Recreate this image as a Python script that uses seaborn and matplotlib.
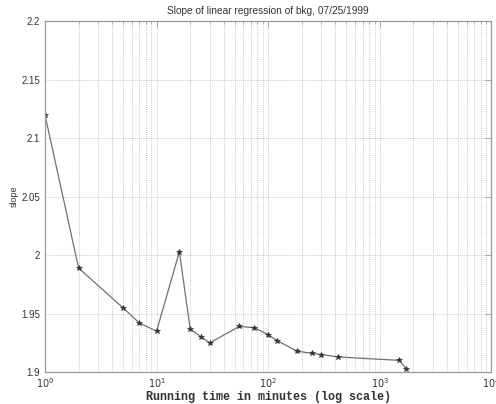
import numpy as np
import pandas as pd
import matplotlib
matplotlib.use("Agg")
import matplotlib.pyplot as plt
import seaborn as sns
from matplotlib.ticker import LogLocator, NullFormatter

# Running time (minutes) and regression slope at each time
minutes = [1, 2, 5, 7, 10, 16, 20, 25, 30, 55, 75, 100, 120, 180, 245, 300, 420, 1500, 1720]
slope = [2.120, 1.989, 1.955, 1.942, 1.935, 2.003, 1.937, 1.930, 1.925, 1.939,
         1.938, 1.932, 1.927, 1.918, 1.916, 1.915, 1.913, 1.910, 1.903]

x_ticks = [1, 10, 100, 1000, 10000]
y_ticks = [1.9, 1.95, 2.0, 2.05, 2.1, 2.15, 2.2]
y_tick_labels = ["1.9", "1.95", "2", "2.05", "2.1", "2.15", "2.2"]

sns.set_style("white")
plt.rcParams["font.family"] = ["Liberation Sans", "DejaVu Sans"]

df = pd.DataFrame({"minutes": minutes, "slope": slope})

fig = plt.figure(figsize=(4.96, 4.04), dpi=100)
ax = fig.add_axes([0.0907, 0.079, 0.9, 0.868])

sns.lineplot(data=df, x="minutes", y="slope", ax=ax, color="#707070",
             linewidth=0.9, marker="*", markersize=4, markeredgecolor="#333333",
             markerfacecolor="#333333", markeredgewidth=0.5)

ax.set_xscale("log")
ax.set_xlim(1, 10000)
ax.set_ylim(1.9, 2.2)
ax.set_xticks(x_ticks)
ax.set_xticklabels([r"$10^{%d}$" % int(np.log10(t)) for t in x_ticks])
ax.xaxis.set_minor_locator(LogLocator(base=10, subs=np.arange(2, 10)))
ax.xaxis.set_minor_formatter(NullFormatter())
ax.set_yticks(y_ticks)
ax.set_yticklabels(y_tick_labels)

grid_kw = dict(color="#b5b5b5", linestyle=(0, (1, 1.5)), linewidth=0.6)
ax.grid(True, which="major", axis="both", **grid_kw)
ax.grid(True, which="minor", axis="x", **grid_kw)

for s in ax.spines.values():
    s.set_color("#9a9a9a")
    s.set_linewidth(0.9)
    s.set_visible(True)

ax.tick_params(which="both", direction="in", top=True, right=True,
               color="#9a9a9a", labelsize=7, labelcolor="#333333")
ax.tick_params(which="major", length=4, width=0.6)
ax.tick_params(which="minor", length=2, width=0.5)
ax.tick_params(axis="x", pad=3)

ax.set_title("Slope of linear regression of bkg, 07/25/1999",
             fontsize=7.3, color="#333333", pad=5)
ax.set_xlabel("Running time in minutes (log scale)", family="Liberation Mono",
              fontweight="bold", fontsize=8.5, color="#333333", labelpad=1)
ax.set_ylabel("slope", fontsize=6.5, color="#333333", labelpad=2)

fig.savefig("out.png", dpi=100)
